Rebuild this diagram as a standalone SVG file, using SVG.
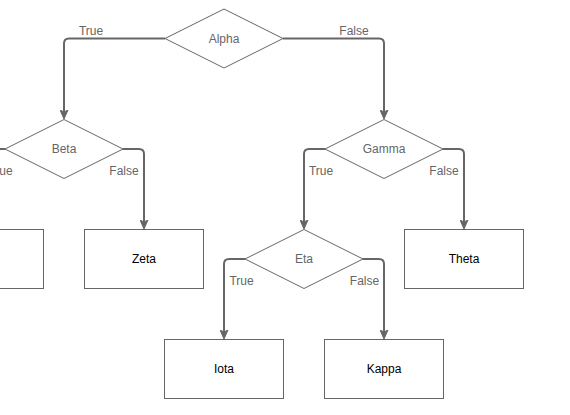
<svg xmlns="http://www.w3.org/2000/svg" width="570" height="415" viewBox="0 0 570 415">
<style>
  .dia { fill: #ffffff; stroke: #666666; stroke-width: 1; }
  .box { fill: #ffffff; stroke: #666666; stroke-width: 1; }
  .dtxt { font-family: "Liberation Sans", Arial, sans-serif; font-size: 12px; fill: #666666; text-anchor: middle; }
  .btxt { font-family: "Liberation Sans", Arial, sans-serif; font-size: 12px; fill: #000000; text-anchor: middle; }
  .lbl { font-family: "Liberation Sans", Arial, sans-serif; font-size: 12px; fill: #666666; text-anchor: middle; }
  .edge { fill: none; stroke: #666666; stroke-width: 2; marker-end: url(#arrow); }
</style>
<defs>
  <marker id="arrow" markerUnits="userSpaceOnUse" markerWidth="10" markerHeight="9" viewBox="0 0 10 9" refX="3.5" refY="4.5" orient="auto">
    <path d="M0.5,0.5 L9.5,4.5 L0.5,8.5 L2.5,4.5 Z" fill="#666666" stroke="#666666" stroke-width="1" stroke-linejoin="miter"/>
  </marker>
</defs>
<rect x="0" y="0" width="570" height="415" fill="#ffffff"/>
<g id="connectors">
  <path class="edge" d="M165 38.5 H69 Q64 38.5 64 43.5 V113"/>
  <path class="edge" d="M283 38.5 H379 Q384 38.5 384 43.5 V113"/>
  <path class="edge" d="M5 149 H-12 Q-17 149 -17 154 V223"/>
  <path class="edge" d="M123 149 H139 Q144 149 144 154 V223"/>
  <path class="edge" d="M325 149 H309 Q304 149 304 154 V223"/>
  <path class="edge" d="M443 149 H459 Q464 149 464 154 V223"/>
  <path class="edge" d="M245 259 H229 Q224 259 224 264 V333"/>
  <path class="edge" d="M363 259 H379 Q384 259 384 264 V333"/>
  <text class="lbl" x="91" y="34.5">True</text>
  <text class="lbl" x="354" y="34.5">False</text>
  <text class="lbl" x="0.6" y="175">True</text>
  <text class="lbl" x="124" y="175">False</text>
  <text class="lbl" x="321" y="175">True</text>
  <text class="lbl" x="444" y="175">False</text>
  <text class="lbl" x="241.5" y="285">True</text>
  <text class="lbl" x="364.5" y="285">False</text>
</g>
<g id="alpha">
  <polygon class="dia" points="224,9 283,38.5 224,68 165,38.5"/>
  <text class="dtxt" x="224" y="43">Alpha</text>
</g>
<g id="beta">
  <polygon class="dia" points="64,119.5 123,149 64,178.5 5,149"/>
  <text class="dtxt" x="64" y="153">Beta</text>
</g>
<g id="gamma">
  <polygon class="dia" points="384,119.5 443,149 384,178.5 325,149"/>
  <text class="dtxt" x="384" y="153">Gamma</text>
</g>
<g id="eta">
  <polygon class="dia" points="304,229.5 363,259 304,288.5 245,259"/>
  <text class="dtxt" x="304" y="263">Eta</text>
</g>
<g id="left-box">
  <rect class="box" x="-75.5" y="229.5" width="119" height="59"/>
</g>
<g id="zeta">
  <rect class="box" x="84.5" y="229.5" width="119" height="59"/>
  <text class="btxt" x="144" y="263">Zeta</text>
</g>
<g id="theta">
  <rect class="box" x="404.5" y="229.5" width="119" height="59"/>
  <text class="btxt" x="464" y="263">Theta</text>
</g>
<g id="iota">
  <rect class="box" x="164.5" y="339.5" width="119" height="59"/>
  <text class="btxt" x="224" y="373">Iota</text>
</g>
<g id="kappa">
  <rect class="box" x="324.5" y="339.5" width="119" height="59"/>
  <text class="btxt" x="384" y="373">Kappa</text>
</g>
</svg>
